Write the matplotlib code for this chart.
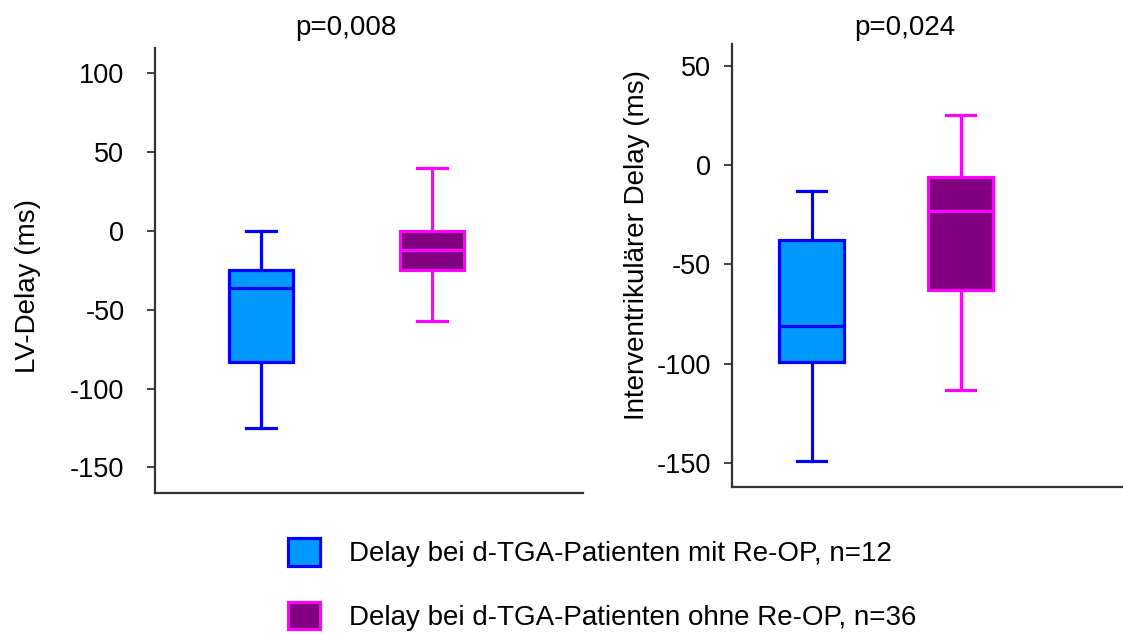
import matplotlib
matplotlib.use("Agg")
import matplotlib.pyplot as plt
from matplotlib.patches import Patch

plt.rcParams["font.family"] = ["Liberation Sans", "DejaVu Sans"]
plt.rcParams["axes.unicode_minus"] = False

# group labels (legend)
groups = [
    "Delay bei d-TGA-Patienten mit Re-OP, n=12",
    "Delay bei d-TGA-Patienten ohne Re-OP, n=36",
]
face_colors = ["#0099FF", "#800080"]
edge_colors = ["#0000FF", "#FF00FF"]

# LV-Delay (ms): whisker low, Q1, median, Q3, whisker high
lv_low = [-125, -57]
lv_q1 = [-83, -25]
lv_med = [-36, -12]
lv_q3 = [-25, 0]
lv_high = [0, 40]

# Interventrikulaerer Delay (ms)
iv_low = [-149, -113]
iv_q1 = [-99, -63]
iv_med = [-81, -23]
iv_q3 = [-38, -6]
iv_high = [-13, 25]

p_values = ["p=0,008", "p=0,024"]
y_labels = ["LV-Delay (ms)", "Interventrikulärer Delay (ms)"]
lv_ticks = [100, 50, 0, -50, -100, -150]
iv_ticks = [50, 0, -50, -100, -150]

FS = 20
TICK_FS = 19.5
AX_COLOR = "#333333"

fig = plt.figure(figsize=(11.23, 6.34), dpi=100)


def make_stats(low, q1, med, q3, high):
    return [
        dict(whislo=low[i], q1=q1[i], med=med[i], q3=q3[i], whishi=high[i], fliers=[])
        for i in range(len(low))
    ]


def draw_panel(rect, stats, ticks, ylim, xlim, box_w, cap_w, pad):
    ax = fig.add_axes(rect)
    for i, st in enumerate(stats):
        ax.bxp(
            [st],
            positions=[i + 1],
            widths=box_w,
            capwidths=cap_w,
            patch_artist=True,
            showfliers=False,
            boxprops=dict(facecolor=face_colors[i], edgecolor=edge_colors[i], linewidth=2.3),
            whiskerprops=dict(color=edge_colors[i], linewidth=2.3),
            capprops=dict(color=edge_colors[i], linewidth=2.3),
            medianprops=dict(color=edge_colors[i], linewidth=2.3),
        )
    ax.set_ylim(*ylim)
    ax.set_xlim(*xlim)
    ax.set_yticks(ticks)
    ax.set_xticks([])
    ax.spines["top"].set_visible(False)
    ax.spines["right"].set_visible(False)
    for s in ("left", "bottom"):
        ax.spines[s].set_color(AX_COLOR)
        ax.spines[s].set_linewidth(1.6)
    ax.tick_params(axis="y", direction="out", length=6, width=1.3,
                   color=AX_COLOR, labelsize=TICK_FS, pad=pad)
    return ax


ax1 = draw_panel(
    [0.138, 0.223, 0.381, 0.701],
    make_stats(lv_low, lv_q1, lv_med, lv_q3, lv_high),
    lv_ticks, (-166, 116), (0.38, 2.88), 0.374, 0.175, 16,
)
ax2 = draw_panel(
    [0.652, 0.232, 0.348, 0.699],
    make_stats(iv_low, iv_q1, iv_med, iv_q3, iv_high),
    iv_ticks, (-162, 61), (0.466, 3.09), 0.436, 0.195, 9,
)

# p-values above each panel
fig.text(346 / 1123, 1 - 35 / 634, p_values[0], ha="center", va="baseline", fontsize=FS)
fig.text(905 / 1123, 1 - 35 / 634, p_values[1], ha="center", va="baseline", fontsize=FS)

# axis titles
fig.text(28 / 1123, 1 - 286 / 634, y_labels[0], rotation=90, ha="center", va="center", fontsize=FS)
fig.text(637 / 1123, 1 - 245 / 634, y_labels[1], rotation=90, ha="center", va="center", fontsize=FS)

handles = [
    Patch(facecolor=face_colors[i], edgecolor=edge_colors[i], linewidth=2.3)
    for i in range(len(groups))
]
fig.legend(
    handles, groups,
    loc="upper left", bbox_to_anchor=(288 / 1123, 1 - 538 / 634),
    frameon=False, fontsize=FS, borderpad=0, borderaxespad=0,
    handlelength=1.15, handleheight=1.15, handletextpad=1.05, labelspacing=1.25,
)

fig.savefig("out.png", dpi=100)
